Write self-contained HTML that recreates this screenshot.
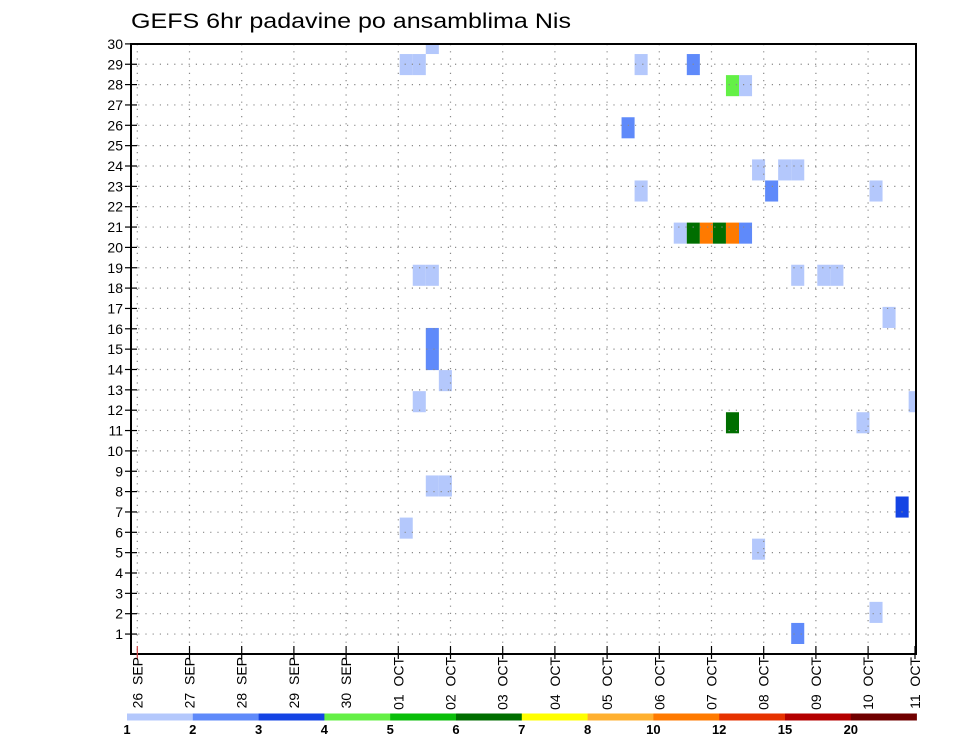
<!DOCTYPE html>
<html><head><meta charset="utf-8"><style>
html,body{margin:0;padding:0;background:#fff;}
svg{display:block;font-family:"Liberation Sans",sans-serif;}
</style></head><body>
<svg id="chart" width="960" height="742" viewBox="0 0 960 742" xmlns="http://www.w3.org/2000/svg">
<text x="131" y="28" font-size="21" textLength="440" lengthAdjust="spacingAndGlyphs" fill="#000">GEFS 6hr padavine po ansamblima Nis</text>
<defs><clipPath id="plotclip"><rect x="131" y="44" width="785" height="610"/></clipPath></defs>
<g id="cells" clip-path="url(#plotclip)"></g>
<g id="grid"></g>
<rect x="131" y="44" width="785" height="610" fill="none" stroke="#000" stroke-width="2"/>
<g id="yaxis"></g>
<g id="xaxis"></g>
<g id="colorbar"></g>
</svg>
<script>
// ---- data ----
const dayLabels = ["26 SEP","27 SEP","28 SEP","29 SEP","30 SEP","01 OCT","02 OCT","03 OCT","04 OCT","05 OCT","06 OCT","07 OCT","08 OCT","09 OCT","10 OCT","11 OCT"];
const memberLabels = [1,2,3,4,5,6,7,8,9,10,11,12,13,14,15,16,17,18,19,20,21,22,23,24,25,26,27,28,29,30];
const cellMember = [28,27,27,27,27,26,26,24,22,22,22,21,21,21,19,19,19,19,19,19,17,17,17,17,17,15,14,13,12,11,11,10,10,7,7,6,5,4,1,0];
const cellSlot   = [22,20,21,38,42,45,46,37,47,49,50,38,48,56,41,42,43,44,45,46,21,22,50,52,53,57,22,22,23,21,59,45,55,22,23,58,20,47,56,50];
const cellValue  = [1.5,1.5,1.5,1.5,2.5,4.5,1.5,2.5,1.5,1.5,1.5,1.5,2.5,1.5,1.5,6.5,11,6.5,11,2.5,1.5,1.5,1.5,1.5,1.5,1.5,2.5,2.5,1.5,1.5,1.5,6.5,1.5,1.5,1.5,3.5,1.5,1.5,1.5,2.5];
const levelLabels = [1,2,3,4,5,6,7,8,10,12,15,20];
const levelColors = ["#b4c8fc","#5f8afa","#1444e4","#64f046","#0abe0a","#006e00","#ffff00","#ffb030","#ff7a00","#e63200","#b40000","#700000"];

// ---- scales ----
const NS="http://www.w3.org/2000/svg";
const X0=137.3, DAY=52.2, PL=131, PR=916, PT=44, PB=654;
function xDay(d){return X0+DAY*d;}
function xSlot(k){return xDay(k/4)+1.4;}
const SLOTW=DAY/4;
function yRow(r){return 654.4-20.35*r;}
const CELLH=21.07;
function yCellBottom(m){return 644-CELLH*m;}
function colorFor(v){let i=0;for(let j=0;j<levelLabels.length;j++){if(v>=levelLabels[j])i=j;}return levelColors[i];}
function mk(tag,attrs,parent){const e=document.createElementNS(NS,tag);for(const a in attrs)e.setAttribute(a,attrs[a]);parent.appendChild(e);return e;}

// cells
const gc=document.getElementById('cells');
for(let i=0;i<cellMember.length;i++){
  const yb=yCellBottom(cellMember[i]);
  const r=mk('rect',{x:xSlot(cellSlot[i]),y:yb-CELLH,width:SLOTW,height:CELLH,fill:colorFor(cellValue[i])},gc);
  
  
}
// grid
const gg=document.getElementById('grid');
for(let r=1;r<=29;r++){
  const l=mk('line',{x1:PL,x2:PR,y1:yRow(r),y2:yRow(r),stroke:"#8a8a8a","stroke-width":1.2,"stroke-dasharray":"1.2,6"},gg);
  
  
}
for(let d=0;d<15;d++){
  const l=mk('line',{x1:xDay(d),x2:xDay(d),y1:PT,y2:PB,stroke:"#8a8a8a","stroke-width":1.2,"stroke-dasharray":"1.2,6"},gg);
  
  
}
// y axis
const gy=document.getElementById('yaxis');
memberLabels.forEach((m)=>{
  const y=yRow(m);
  const t=mk('line',{x1:PL-6,x2:PL+6,y1:y,y2:y,stroke:"#000","stroke-width":1.2},gy);
  
  
  const tx=mk('text',{x:PL-8,y:y+5,"font-size":14,"text-anchor":"end",fill:"#000"},gy);
  tx.textContent=m;
  
  
});
// x axis
const gx=document.getElementById('xaxis');
dayLabels.forEach((lab,d)=>{
  const x=(d===15)?PR-1:xDay(d);
  const t=mk('line',{x1:x,x2:x,y1:PB-8,y2:PB+5,stroke:d===0?"#d04040":"#000","stroke-width":1.2},gx);
  
  
  const tx=mk('text',{x:0,y:0,"font-size":14,"text-anchor":"end",fill:"#000",transform:"translate("+(x+5)+",657) rotate(-90)"},gx);
  tx.textContent=lab.replace(" ","\u00a0\u00a0");
  
  
});
// colorbar
const gb=document.getElementById('colorbar');
const CB0=127, CBW=65.8;
levelColors.forEach((c,i)=>{
  const r=mk('rect',{x:CB0+CBW*i,y:713.5,width:CBW+0.3,height:7,fill:c},gb);
  
  
});
levelLabels.forEach((v,i)=>{
  const tx=mk('text',{x:CB0+CBW*i,y:734,"font-size":13,"font-weight":"bold","text-anchor":"middle",fill:"#000"},gb);
  tx.textContent=v;
  
  
});
</script>
</body></html>
